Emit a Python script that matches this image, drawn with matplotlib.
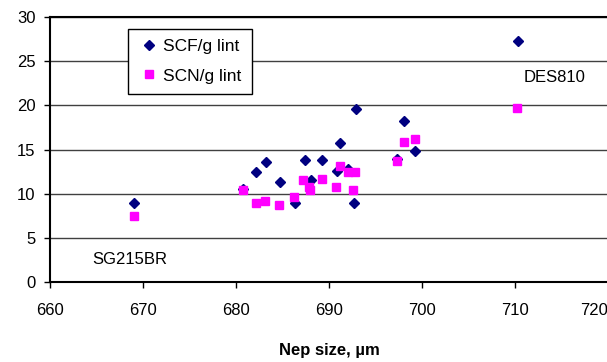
import matplotlib
matplotlib.use("Agg")
from matplotlib import pyplot as plt

plt.rcParams['font.family'] = ['Liberation Sans', 'DejaVu Sans']

# nep size (um) and counts per g lint
scf_x = [669.0, 680.8, 682.2, 683.2, 684.7, 686.3, 687.4, 688.1, 689.3, 690.9,
         691.2, 692.0, 692.9, 692.7, 697.3, 698.1, 699.3, 710.3]
scf_y = [8.9, 10.5, 12.4, 13.6, 11.3, 9.0, 13.8, 11.6, 13.8, 12.6,
         15.7, 12.8, 19.6, 8.9, 13.9, 18.2, 14.8, 27.3]

scn_x = [669.0, 680.7, 682.1, 683.1, 684.6, 686.2, 687.2, 687.8, 688.0, 689.2,
         690.8, 691.2, 692.0, 692.8, 692.6, 697.3, 698.1, 699.2, 710.2]
scn_y = [7.5, 10.4, 8.9, 9.2, 8.7, 9.6, 11.6, 10.8, 10.4, 11.7,
         10.8, 13.1, 12.5, 12.5, 10.4, 13.7, 15.8, 16.2, 19.7]

x_ticks = [660, 670, 680, 690, 700, 710, 720]
y_ticks = [0, 5, 10, 15, 20, 25, 30]

fig = plt.figure(figsize=(6.07, 3.62), dpi=100)
ax = fig.add_axes([50 / 607, 80 / 362, 558 / 607, 265 / 362])

ax.plot(scf_x, scf_y, 'D', color='#000080', ms=4.6, mec='#000080', label='SCF/g lint', zorder=3)
ax.plot(scn_x, scn_y, 's', color='#FF00FF', ms=5.2, mec='#FF00FF', label='SCN/g lint', zorder=3)

ax.set_xlim(660, 720)
ax.set_ylim(0, 30)
ax.set_xticks(x_ticks)
ax.set_yticks(y_ticks)
ax.set_xticklabels([str(t) for t in x_ticks])
ax.get_xticklabels()[-1].set_horizontalalignment('right')

ax.yaxis.grid(True, color='#404040', lw=1.0)
ax.set_axisbelow(True)
for s in ['left', 'bottom', 'top']:
    ax.spines[s].set_linewidth(1.5)
    ax.spines[s].set_color('black')
ax.spines['right'].set_visible(False)

ax.tick_params(axis='both', direction='out', length=4.5, width=1, labelsize=12)
ax.tick_params(axis='x', pad=10.5)
ax.tick_params(axis='y', pad=6)

ax.set_xlabel('Nep size, µm', fontsize=12, fontweight='bold', labelpad=18)

ax.text(710.9, 23.2, 'DES810', fontsize=12, va='center', ha='left')
ax.text(664.6, 2.5, 'SG215BR', fontsize=12, va='center', ha='left')

leg = ax.legend(loc='upper left', bbox_to_anchor=(0.14, 0.955), borderaxespad=0,
                fontsize=12.5, frameon=True, fancybox=False, edgecolor='black',
                framealpha=1, labelspacing=0.8, handletextpad=0.2,
                handlelength=1.2, borderpad=0.6, numpoints=1)
leg.get_frame().set_linewidth(1.0)

fig.savefig('out.png', dpi=100)
